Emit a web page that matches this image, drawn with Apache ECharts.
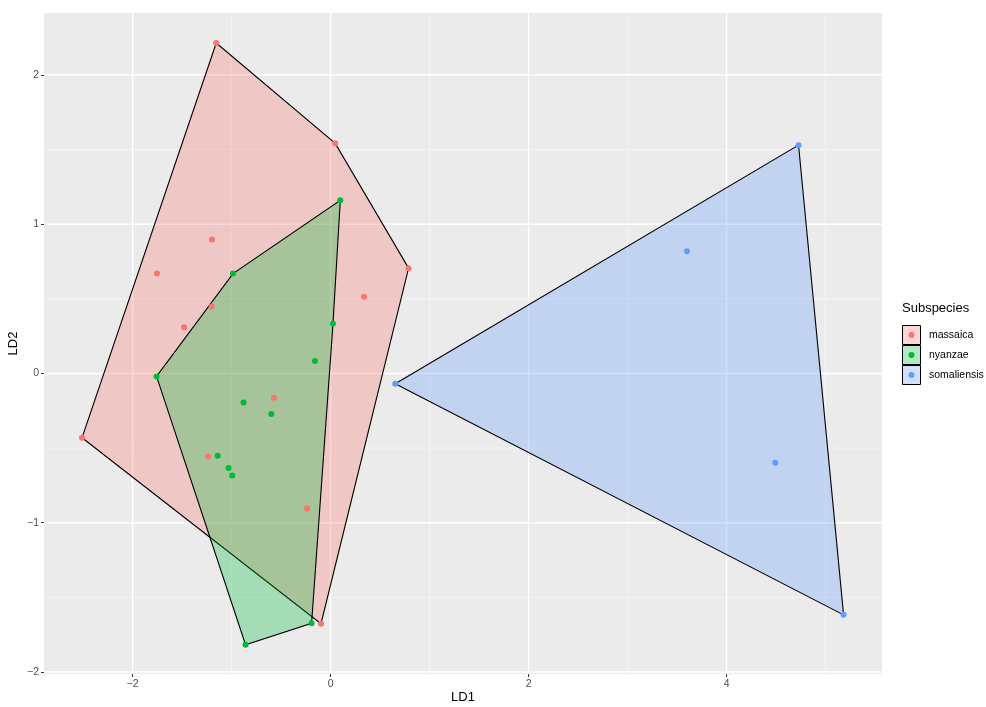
<!DOCTYPE html>
<html>
<head>
<meta charset="utf-8">
<script src="https://cdn.jsdelivr.net/npm/echarts@6/dist/echarts.min.js"></script>
<style>
  html, body { margin: 0; padding: 0; background: #fff; }
  #chart { width: 986px; height: 707px; }
</style>
</head>
<body>
<div id="chart"></div>
<script>
// Linear discriminant scores (LD1, LD2) per subspecies
const massaicaLD = [
  [-1.155, 2.213], [0.047, 1.541], [0.788, 0.705], [0.337, 0.513],
  [-1.198, 0.897], [-1.754, 0.669], [-1.202, 0.446], [-1.481, 0.310],
  [-2.511, -0.431], [-0.572, -0.163], [-1.238, -0.556], [-0.238, -0.904],
  [-0.097, -1.676]
];
const nyanzaeLD = [
  [0.098, 1.160], [-0.986, 0.669], [0.024, 0.332], [-0.158, 0.084],
  [-1.758, -0.020], [-0.879, -0.194], [-0.599, -0.272], [-1.141, -0.551],
  [-1.030, -0.634], [-0.993, -0.683], [-0.192, -1.673], [-0.859, -1.817]
];
const somaliensisLD = [
  [4.727, 1.529], [3.600, 0.818], [0.653, -0.069], [4.492, -0.598],
  [5.182, -1.617]
];

const subspecies = ['massaica', 'nyanzae', 'somaliensis'];
const groupData = [massaicaLD, nyanzaeLD, somaliensisLD];
const groupColors = ['#F8766D', '#00BA38', '#619CFF'];

// Axis breaks
const xMajorTicks = [-2, 0, 2, 4];
const xMinorTicks = [-1, 1, 3, 5];
const yMajorTicks = [-2, -1, 0, 1, 2];
const yMinorTicks = [-1.5, -0.5, 0.5, 1.5];
const xLimits = [-2.895, 5.57];
const yLimits = [-2.013, 2.414];

const FONT = '"Liberation Sans", Arial, sans-serif';

function withAlpha(hex, a) {
  const n = parseInt(hex.slice(1), 16);
  return 'rgba(' + ((n >> 16) & 255) + ',' + ((n >> 8) & 255) + ',' + (n & 255) + ',' + a + ')';
}

// Monotone chain convex hull
function convexHull(pts) {
  const p = pts.slice().sort((a, b) => a[0] - b[0] || a[1] - b[1]);
  const cross = (o, a, b) => (a[0] - o[0]) * (b[1] - o[1]) - (a[1] - o[1]) * (b[0] - o[0]);
  const lower = [];
  for (const q of p) {
    while (lower.length >= 2 && cross(lower[lower.length - 2], lower[lower.length - 1], q) <= 0) lower.pop();
    lower.push(q);
  }
  const upper = [];
  for (let i = p.length - 1; i >= 0; i--) {
    const q = p[i];
    while (upper.length >= 2 && cross(upper[upper.length - 2], upper[upper.length - 1], q) <= 0) upper.pop();
    upper.push(q);
  }
  upper.pop(); lower.pop();
  return lower.concat(upper);
}

function gridLineSeries(values, dir, width, color) {
  return {
    type: 'custom',
    silent: true,
    z: 1,
    data: values.map(v => [v]),
    encode: dir === 'x' ? { x: 0 } : { y: 0 },
    renderItem: function (params, api) {
      const cs = params.coordSys;
      const v = api.value(0);
      if (dir === 'x') {
        const x = api.coord([v, 0])[0];
        return { type: 'line', shape: { x1: x, y1: cs.y, x2: x, y2: cs.y + cs.height },
                 style: { stroke: color, lineWidth: width } };
      }
      const y = api.coord([0, v])[1];
      return { type: 'line', shape: { x1: cs.x, y1: y, x2: cs.x + cs.width, y2: y },
               style: { stroke: color, lineWidth: width } };
    }
  };
}

const series = [
  gridLineSeries(xMinorTicks, 'x', 0.7, '#F8F8F8'),
  gridLineSeries(yMinorTicks, 'y', 0.7, '#F8F8F8'),
  gridLineSeries(xMajorTicks, 'x', 1.5, '#FFFFFF'),
  gridLineSeries(yMajorTicks, 'y', 1.5, '#FFFFFF')
];

// Hull polygons
groupData.forEach((pts, i) => {
  const hull = convexHull(pts);
  series.push({
    type: 'custom',
    name: subspecies[i] + ' hull',
    silent: true,
    z: 2 + i,
    data: hull,
    renderItem: function (params, api) {
      if (params.dataIndex !== 0) return null;
      return {
        type: 'polygon',
        shape: { points: hull.map(p => api.coord(p)) },
        style: { fill: withAlpha(groupColors[i], 0.3), stroke: '#000', lineWidth: 1.1 }
      };
    }
  });
});

// Points
groupData.forEach((pts, i) => {
  series.push({
    type: 'scatter',
    name: subspecies[i],
    z: 10,
    symbol: 'circle',
    symbolSize: 6,
    itemStyle: { color: groupColors[i], opacity: 1 },
    data: pts
  });
});

// Legend keys
const legendGraphics = [{
  type: 'text', left: 902, top: 302,
  style: { text: 'Subspecies', font: '13px ' + FONT, fill: '#000' }
}];
subspecies.forEach((name, i) => {
  const top = 325 + i * 20;
  legendGraphics.push({
    type: 'rect',
    shape: { x: 902.5, y: top + 0.5, width: 18, height: 19 },
    style: { fill: withAlpha(groupColors[i], 0.3), stroke: '#000', lineWidth: 1 }
  });
  legendGraphics.push({
    type: 'circle',
    shape: { cx: 911.5, cy: top + 10, r: 3 },
    style: { fill: groupColors[i] }
  });
  legendGraphics.push({
    type: 'text', x: 929, y: top + 10,
    style: { text: name, font: '10.5px ' + FONT, fill: '#000', verticalAlign: 'middle' }
  });
});

const chart = echarts.init(document.getElementById('chart'));
chart.setOption({
  animation: false,
  backgroundColor: '#FFFFFF',
  textStyle: { fontFamily: FONT },
  grid: {
    left: 44, top: 13, right: 104, bottom: 33,
    containLabel: false, outerBoundsMode: 'none',
    show: true, backgroundColor: '#EBEBEB', borderWidth: 0
  },
  xAxis: {
    type: 'value',
    min: xLimits[0], max: xLimits[1],
    name: 'LD1', nameLocation: 'middle', nameGap: 17, nameMoveOverlap: false,
    nameTextStyle: { color: '#000', fontSize: 13, fontFamily: FONT },
    axisLine: { show: false, onZero: false },
    splitLine: { show: false },
    axisTick: { show: true, length: 3, customValues: xMajorTicks,
                lineStyle: { color: '#333333', width: 1 } },
    axisLabel: { customValues: xMajorTicks, margin: 5, color: '#4D4D4D', fontSize: 10.5,
                 fontFamily: FONT, formatter: v => String(v).replace('-', '\u2212') }
  },
  yAxis: {
    type: 'value',
    min: yLimits[0], max: yLimits[1],
    name: 'LD2', nameLocation: 'middle', nameGap: 24, nameRotate: 90, nameMoveOverlap: false,
    nameTextStyle: { color: '#000', fontSize: 13, fontFamily: FONT },
    axisLine: { show: false, onZero: false },
    splitLine: { show: false },
    axisTick: { show: true, length: 3, customValues: yMajorTicks,
                lineStyle: { color: '#333333', width: 1 } },
    axisLabel: { customValues: yMajorTicks, margin: 5, color: '#4D4D4D', fontSize: 10.5,
                 fontFamily: FONT, formatter: v => String(v).replace('-', '\u2212') }
  },
  graphic: legendGraphics,
  series: series
});
</script>
</body>
</html>
